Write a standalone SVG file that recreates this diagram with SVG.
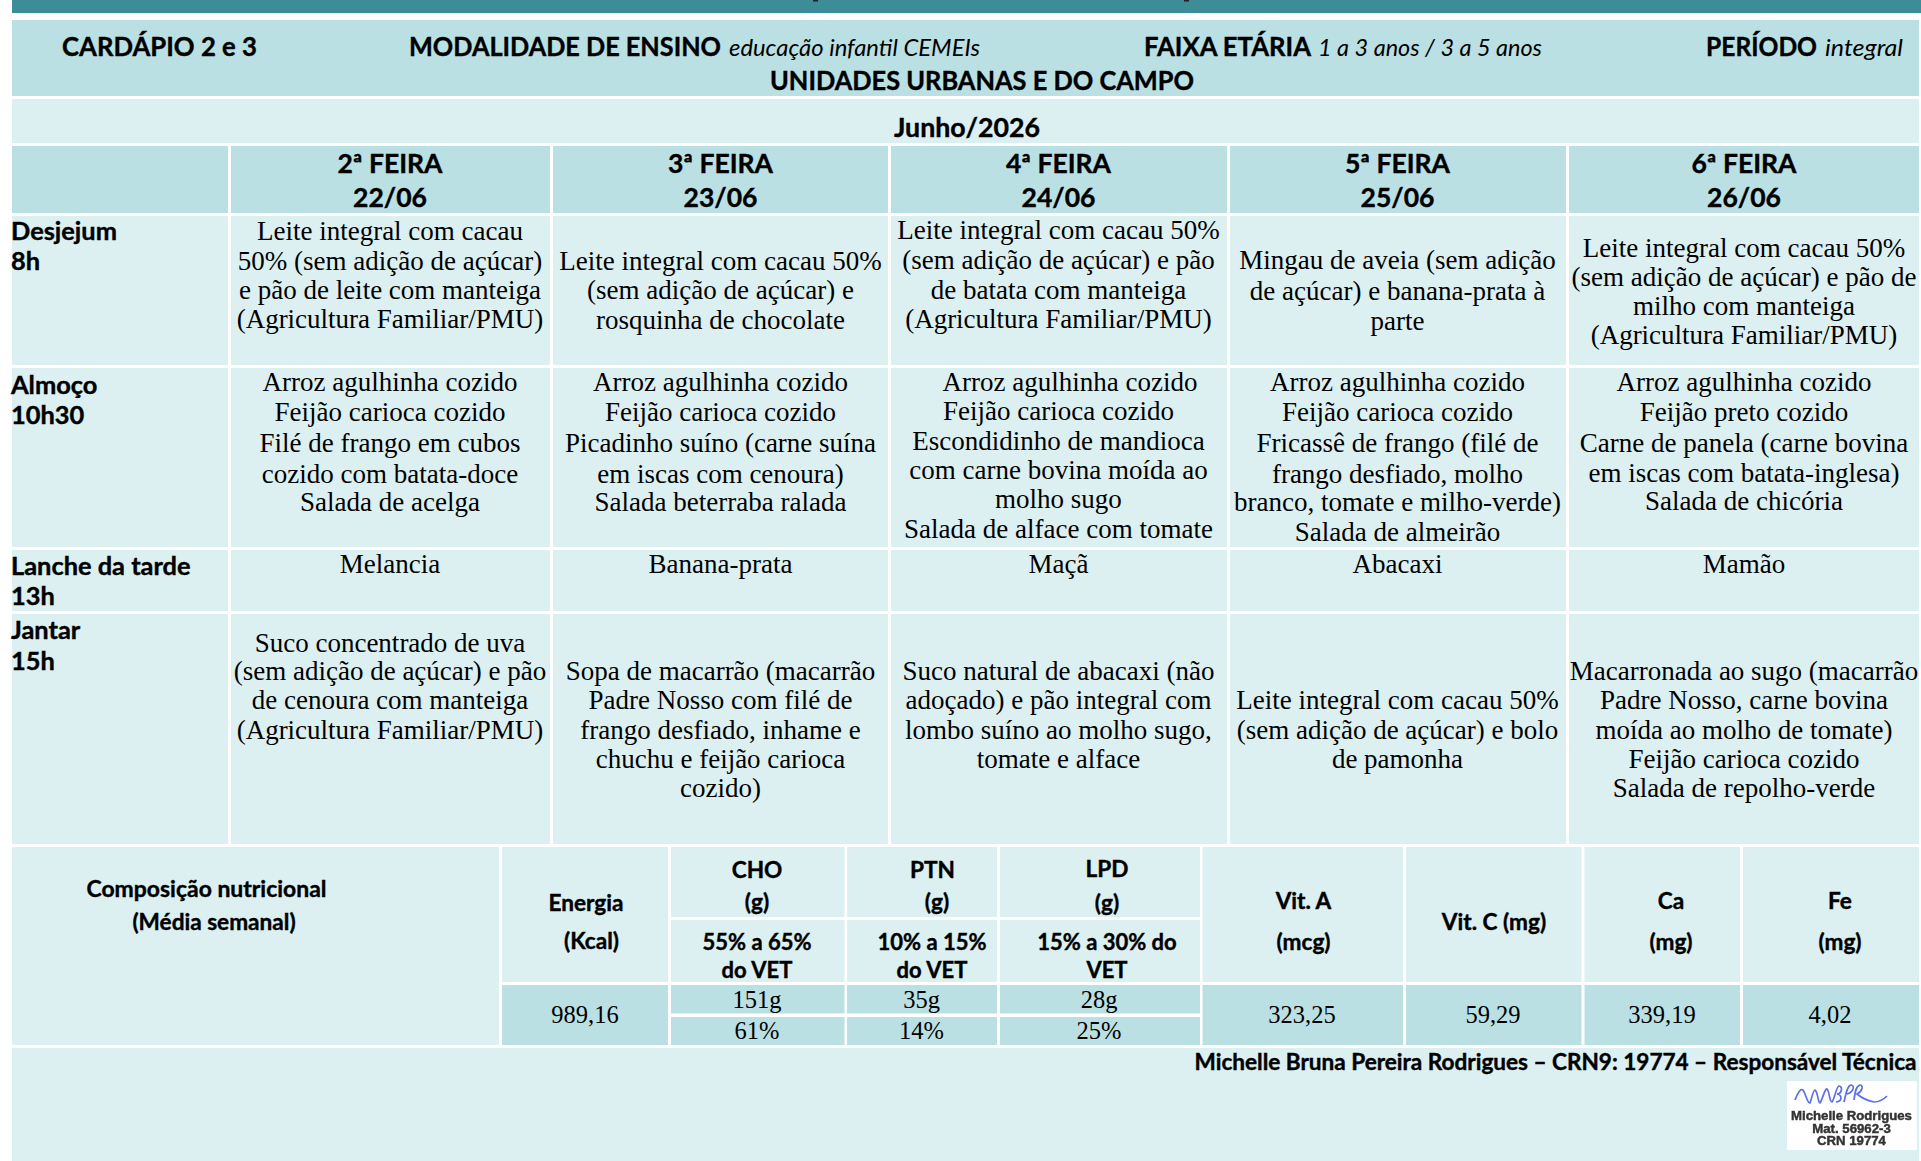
<svg xmlns="http://www.w3.org/2000/svg" width="1921" height="1161" viewBox="0 0 1921 1161">
<defs><filter id="blur" x="-5%" y="-20%" width="110%" height="140%"><feGaussianBlur stdDeviation="0.55"/></filter></defs>
<style>
.h{fill:#bae0e4}.l{fill:#dcf0f2}
text{fill:#000}
.b{font-family:"Lato","Carlito","Liberation Sans",sans-serif;font-weight:700;stroke:#000;stroke-width:.4px}
.xl{font-size:26.5px}.m{font-size:25.4px}.s{font-size:22.6px}.p{font-size:22px}
.i{font-family:"Lato","Liberation Sans",sans-serif;font-style:italic;font-size:23px}
.t{font-family:"Liberation Serif","Times New Roman",serif;font-size:27px;text-anchor:middle}
.v{font-family:"Liberation Serif","Times New Roman",serif;font-size:24.5px;text-anchor:middle}
.c{text-anchor:middle}
.a{font-family:"Liberation Sans",sans-serif;font-weight:700;font-size:13.2px;text-anchor:middle;fill:#333;stroke:#333;stroke-width:.45px}
</style>
<rect width="1921" height="1161" fill="#fff"/>
<rect x="12" y="0" width="1909" height="13" fill="#3d8d99"/>
<rect x="813" y="0" width="5" height="1.500" fill="#222"/>
<rect x="1184" y="0" width="5" height="1.500" fill="#222"/>
<g id="cabecalho">
<rect class="h" x="12" y="20" width="1907" height="76"/>
<text class="b xl" x="62" y="56" textLength="195" lengthAdjust="spacingAndGlyphs">CARDÁPIO 2 e 3</text>
<text class="b xl" x="409" y="56" textLength="312" lengthAdjust="spacingAndGlyphs">MODALIDADE DE ENSINO</text>
<text class="i" x="729" y="55.500" textLength="251" lengthAdjust="spacingAndGlyphs">educação infantil CEMEIs</text>
<text class="b xl" x="1144" y="56" textLength="167" lengthAdjust="spacingAndGlyphs">FAIXA ETÁRIA</text>
<text class="i" x="1318" y="55.500" textLength="224" lengthAdjust="spacingAndGlyphs">1 a 3 anos / 3 a 5 anos</text>
<text class="b xl" x="1706" y="56" textLength="111" lengthAdjust="spacingAndGlyphs">PERÍODO</text>
<text class="i" x="1825" y="55.500" textLength="78" lengthAdjust="spacingAndGlyphs">integral</text>
<text class="b xl" x="770" y="90" textLength="424" lengthAdjust="spacingAndGlyphs">UNIDADES URBANAS E DO CAMPO</text>
</g>
<g id="mes">
<rect class="l" x="12" y="99" width="1907" height="44"/>
<text class="b xl" x="894" y="137" textLength="146" lengthAdjust="spacingAndGlyphs">Junho/2026</text>
</g>
<g id="dias">
<rect class="h" x="12" y="146" width="216" height="67"/>
<rect class="h" x="231" y="146" width="319" height="67"/>
<rect class="h" x="553" y="146" width="335" height="67"/>
<rect class="h" x="891" y="146" width="336" height="67"/>
<rect class="h" x="1230" y="146" width="336" height="67"/>
<rect class="h" x="1569" y="146" width="350" height="67"/>
<text class="b xl c" x="390" y="173">2ª FEIRA</text><text class="b xl c" x="390" y="207">22/06</text>
<text class="b xl c" x="720.5" y="173">3ª FEIRA</text><text class="b xl c" x="720.5" y="207">23/06</text>
<text class="b xl c" x="1058.5" y="173">4ª FEIRA</text><text class="b xl c" x="1058.5" y="207">24/06</text>
<text class="b xl c" x="1397.5" y="173">5ª FEIRA</text><text class="b xl c" x="1397.5" y="207">25/06</text>
<text class="b xl c" x="1744" y="173">6ª FEIRA</text><text class="b xl c" x="1744" y="207">26/06</text>
</g>
<g id="desjejum">
<rect class="l" x="12" y="216" width="216" height="149"/>
<rect class="l" x="231" y="216" width="319" height="149"/>
<rect class="l" x="553" y="216" width="335" height="149"/>
<rect class="l" x="891" y="216" width="336" height="149"/>
<rect class="l" x="1230" y="216" width="336" height="149"/>
<rect class="l" x="1569" y="216" width="350" height="149"/>
<text class="b m" x="11" y="240">Desjejum</text><text class="b m" x="11" y="270">8h</text>
<text class="t" x="390" y="240">Leite integral com cacau</text><text class="t" x="390" y="270">50% (sem adição de açúcar)</text><text class="t" x="390" y="299">e pão de leite com manteiga</text><text class="t" x="390" y="328">(Agricultura Familiar/PMU)</text>
<text class="t" x="720.5" y="270">Leite integral com cacau 50%</text><text class="t" x="720.5" y="299">(sem adição de açúcar) e</text><text class="t" x="720.5" y="329">rosquinha de chocolate</text>
<text class="t" x="1058.5" y="239">Leite integral com cacau 50%</text><text class="t" x="1058.5" y="269">(sem adição de açúcar) e pão</text><text class="t" x="1058.5" y="299">de batata com manteiga</text><text class="t" x="1058.5" y="328">(Agricultura Familiar/PMU)</text>
<text class="t" x="1397.5" y="269">Mingau de aveia (sem adição</text><text class="t" x="1397.5" y="300">de açúcar) e banana-prata à</text><text class="t" x="1397.5" y="330">parte</text>
<text class="t" x="1744" y="257">Leite integral com cacau 50%</text><text class="t" x="1744" y="286">(sem adição de açúcar) e pão de</text><text class="t" x="1744" y="315">milho com manteiga</text><text class="t" x="1744" y="344">(Agricultura Familiar/PMU)</text>
</g>
<g id="almoco">
<rect class="l" x="12" y="368" width="216" height="179"/>
<rect class="l" x="231" y="368" width="319" height="179"/>
<rect class="l" x="553" y="368" width="335" height="179"/>
<rect class="l" x="891" y="368" width="336" height="179"/>
<rect class="l" x="1230" y="368" width="336" height="179"/>
<rect class="l" x="1569" y="368" width="350" height="179"/>
<text class="b m" x="11" y="393.500">Almoço</text><text class="b m" x="11" y="423.500">10h30</text>
<text class="t" x="390" y="391">Arroz agulhinha cozido</text><text class="t" x="390" y="421">Feijão carioca cozido</text><text class="t" x="390" y="452">Filé de frango em cubos</text><text class="t" x="390" y="482.5">cozido com batata-doce</text><text class="t" x="390" y="511">Salada de acelga</text>
<text class="t" x="720.5" y="391">Arroz agulhinha cozido</text><text class="t" x="720.5" y="421">Feijão carioca cozido</text><text class="t" x="720.5" y="452">Picadinho suíno (carne suína</text><text class="t" x="720.5" y="482.5">em iscas com cenoura)</text><text class="t" x="720.5" y="511">Salada beterraba ralada</text>
<text class="t" x="1070" y="391">Arroz agulhinha cozido</text><text class="t" x="1058.5" y="420">Feijão carioca cozido</text><text class="t" x="1058.5" y="449.5">Escondidinho de mandioca</text><text class="t" x="1058.5" y="479">com carne bovina moída ao</text><text class="t" x="1058.5" y="508">molho sugo</text><text class="t" x="1058.5" y="538">Salada de alface com tomate</text>
<text class="t" x="1397.5" y="391">Arroz agulhinha cozido</text><text class="t" x="1397.5" y="421">Feijão carioca cozido</text><text class="t" x="1397.5" y="452">Fricassê de frango (filé de</text><text class="t" x="1397.5" y="482.5">frango desfiado, molho</text><text class="t" x="1397.5" y="511">branco, tomate e milho-verde)</text><text class="t" x="1397.5" y="541">Salada de almeirão</text>
<text class="t" x="1744" y="391">Arroz agulhinha cozido</text><text class="t" x="1744" y="421">Feijão preto cozido</text><text class="t" x="1744" y="452">Carne de panela (carne bovina</text><text class="t" x="1744" y="481.5">em iscas com batata-inglesa)</text><text class="t" x="1744" y="510">Salada de chicória</text>
</g>
<g id="lanche">
<rect class="l" x="12" y="550" width="216" height="61"/>
<rect class="l" x="231" y="550" width="319" height="61"/>
<rect class="l" x="553" y="550" width="335" height="61"/>
<rect class="l" x="891" y="550" width="336" height="61"/>
<rect class="l" x="1230" y="550" width="336" height="61"/>
<rect class="l" x="1569" y="550" width="350" height="61"/>
<text class="b m" x="11" y="575">Lanche da tarde</text><text class="b m" x="11" y="605">13h</text>
<text class="t" x="390" y="573">Melancia</text><text class="t" x="720.5" y="573">Banana-prata</text><text class="t" x="1058.5" y="573">Maçã</text><text class="t" x="1397.5" y="573">Abacaxi</text><text class="t" x="1744" y="573">Mamão</text>
</g>
<g id="jantar">
<rect class="l" x="12" y="614" width="216" height="230"/>
<rect class="l" x="231" y="614" width="319" height="230"/>
<rect class="l" x="553" y="614" width="335" height="230"/>
<rect class="l" x="891" y="614" width="336" height="230"/>
<rect class="l" x="1230" y="614" width="336" height="230"/>
<rect class="l" x="1569" y="614" width="350" height="230"/>
<text class="b m" x="11" y="639">Jantar</text><text class="b m" x="11" y="669.500">15h</text>
<text class="t" x="390" y="652">Suco concentrado de uva</text><text class="t" x="390" y="680">(sem adição de açúcar) e pão</text><text class="t" x="390" y="709">de cenoura com manteiga</text><text class="t" x="390" y="739">(Agricultura Familiar/PMU)</text>
<text class="t" x="720.5" y="680">Sopa de macarrão (macarrão</text><text class="t" x="720.5" y="709">Padre Nosso com filé de</text><text class="t" x="720.5" y="739">frango desfiado, inhame e</text><text class="t" x="720.5" y="768">chuchu e feijão carioca</text><text class="t" x="720.5" y="797">cozido)</text>
<text class="t" x="1058.5" y="680">Suco natural de abacaxi (não</text><text class="t" x="1058.5" y="709">adoçado) e pão integral com</text><text class="t" x="1058.5" y="739">lombo suíno ao molho sugo,</text><text class="t" x="1058.5" y="768">tomate e alface</text>
<text class="t" x="1397.5" y="709">Leite integral com cacau 50%</text><text class="t" x="1397.5" y="739">(sem adição de açúcar) e bolo</text><text class="t" x="1397.5" y="768">de pamonha</text>
<text class="t" x="1744" y="680">Macarronada ao sugo (macarrão</text><text class="t" x="1744" y="709">Padre Nosso, carne bovina</text><text class="t" x="1744" y="739">moída ao molho de tomate)</text><text class="t" x="1744" y="768">Feijão carioca cozido</text><text class="t" x="1744" y="797">Salada de repolho-verde</text>
</g>
<g id="nutricional">
<rect class="l" x="12" y="847" width="487" height="198"/>
<rect class="l" x="502" y="847" width="166" height="135"/>
<rect class="l" x="671" y="847" width="173.500" height="70"/>
<rect class="l" x="847" y="847" width="150" height="70"/>
<rect class="l" x="1000" y="847" width="200" height="70"/>
<rect class="l" x="671" y="920" width="173.500" height="62"/>
<rect class="l" x="847" y="920" width="150" height="62"/>
<rect class="l" x="1000" y="920" width="200" height="62"/>
<rect class="l" x="1202.500" y="847" width="200.500" height="135"/>
<rect class="l" x="1406" y="847" width="175.500" height="135"/>
<rect class="l" x="1584.500" y="847" width="155.500" height="135"/>
<rect class="l" x="1743" y="847" width="176" height="135"/>
<rect class="h" x="502" y="985" width="166" height="60"/>
<rect class="h" x="671" y="985" width="173.500" height="28.500"/>
<rect class="h" x="847" y="985" width="150" height="28.500"/>
<rect class="h" x="1000" y="985" width="200" height="28.500"/>
<rect class="h" x="671" y="1017" width="173.500" height="28"/>
<rect class="h" x="847" y="1017" width="150" height="28"/>
<rect class="h" x="1000" y="1017" width="200" height="28"/>
<rect class="h" x="1202.500" y="985" width="200.500" height="60"/>
<rect class="h" x="1406" y="985" width="175.500" height="60"/>
<rect class="h" x="1584.500" y="985" width="155.500" height="60"/>
<rect class="h" x="1743" y="985" width="176" height="60"/>
<text class="b s c" x="206.500" y="897" textLength="240" lengthAdjust="spacingAndGlyphs">Composição nutricional</text><text class="b s c" x="214" y="930">(Média semanal)</text>
<text class="b s c" x="586" y="910.500">Energia</text><text class="b s c" x="591.500" y="948.500">(Kcal)</text>
<text class="b s c" x="757" y="877.500">CHO</text><text class="b s c" x="757" y="910">(g)</text><text class="b p c" x="757" y="949.500">55% a 65%</text><text class="b p c" x="757" y="977.500">do VET</text>
<text class="b s c" x="932.500" y="877.500">PTN</text><text class="b s c" x="937" y="910">(g)</text><text class="b p c" x="932" y="949.500">10% a 15%</text><text class="b p c" x="932" y="977.500">do VET</text>
<text class="b s c" x="1107" y="876.500">LPD</text><text class="b s c" x="1107" y="910.500">(g)</text><text class="b p c" x="1107" y="949.500">15% a 30% do</text><text class="b p c" x="1107" y="977.500">VET</text>
<text class="b s c" x="1303.500" y="908.500">Vit. A</text><text class="b s c" x="1303.500" y="949.500">(mcg)</text>
<text class="b s c" x="1494" y="929.500">Vit. C (mg)</text>
<text class="b s c" x="1671" y="908.500">Ca</text><text class="b s c" x="1671" y="949.500">(mg)</text>
<text class="b s c" x="1840" y="908.500">Fe</text><text class="b s c" x="1840" y="949.500">(mg)</text>
<text class="v" x="585" y="1023">989,16</text><text class="v" x="757" y="1008">151g</text><text class="v" x="757" y="1039">61%</text><text class="v" x="921.500" y="1008">35g</text><text class="v" x="921.500" y="1039">14%</text><text class="v" x="1099" y="1008">28g</text><text class="v" x="1099" y="1039">25%</text><text class="v" x="1302" y="1023">323,25</text><text class="v" x="1493" y="1023">59,29</text><text class="v" x="1662" y="1023">339,19</text><text class="v" x="1830" y="1023">4,02</text>
</g>
<g id="rodape">
<rect class="l" x="12" y="1048" width="1907" height="113"/>
<text class="b" font-size="22" x="1194.500" y="1069.500" textLength="722" lengthAdjust="spacingAndGlyphs">Michelle Bruna Pereira Rodrigues – CRN9: 19774 – Responsável Técnica</text>
</g>
<g id="assinatura">
<rect x="1787" y="1081" width="130" height="69" fill="#fff"/>
<path d="M1795 1100 C1798 1092 1801 1088 1803 1090 C1806 1094 1807 1103 1810 1103 C1812 1098 1813 1090 1815 1090 C1818 1092 1818 1103 1820 1103 C1823 1098 1825 1088 1827 1089 C1830 1092 1829 1102 1832 1102 C1835 1098 1836 1087 1839 1086 C1843 1086 1842 1094 1837 1094 C1842 1095 1843 1101 1836 1102 M1844 1102 C1846 1094 1847 1086 1851 1085 C1855 1085 1854 1092 1847 1094 M1854 1100 C1855 1092 1856 1086 1860 1085 C1864 1085 1862 1092 1857 1094 C1862 1098 1868 1101 1874 1102 C1879 1102 1883 1100 1887 1096" fill="none" stroke="#5a70e4" stroke-width="1.700" filter="url(#blur)"/>
<g filter="url(#blur)">
<text class="a" x="1851.500" y="1120">Michelle Rodrigues</text>
<text class="a" x="1851.500" y="1132.500">Mat. 56962-3</text>
<text class="a" x="1851.500" y="1145">CRN 19774</text>
</g>
</g>
</svg>
